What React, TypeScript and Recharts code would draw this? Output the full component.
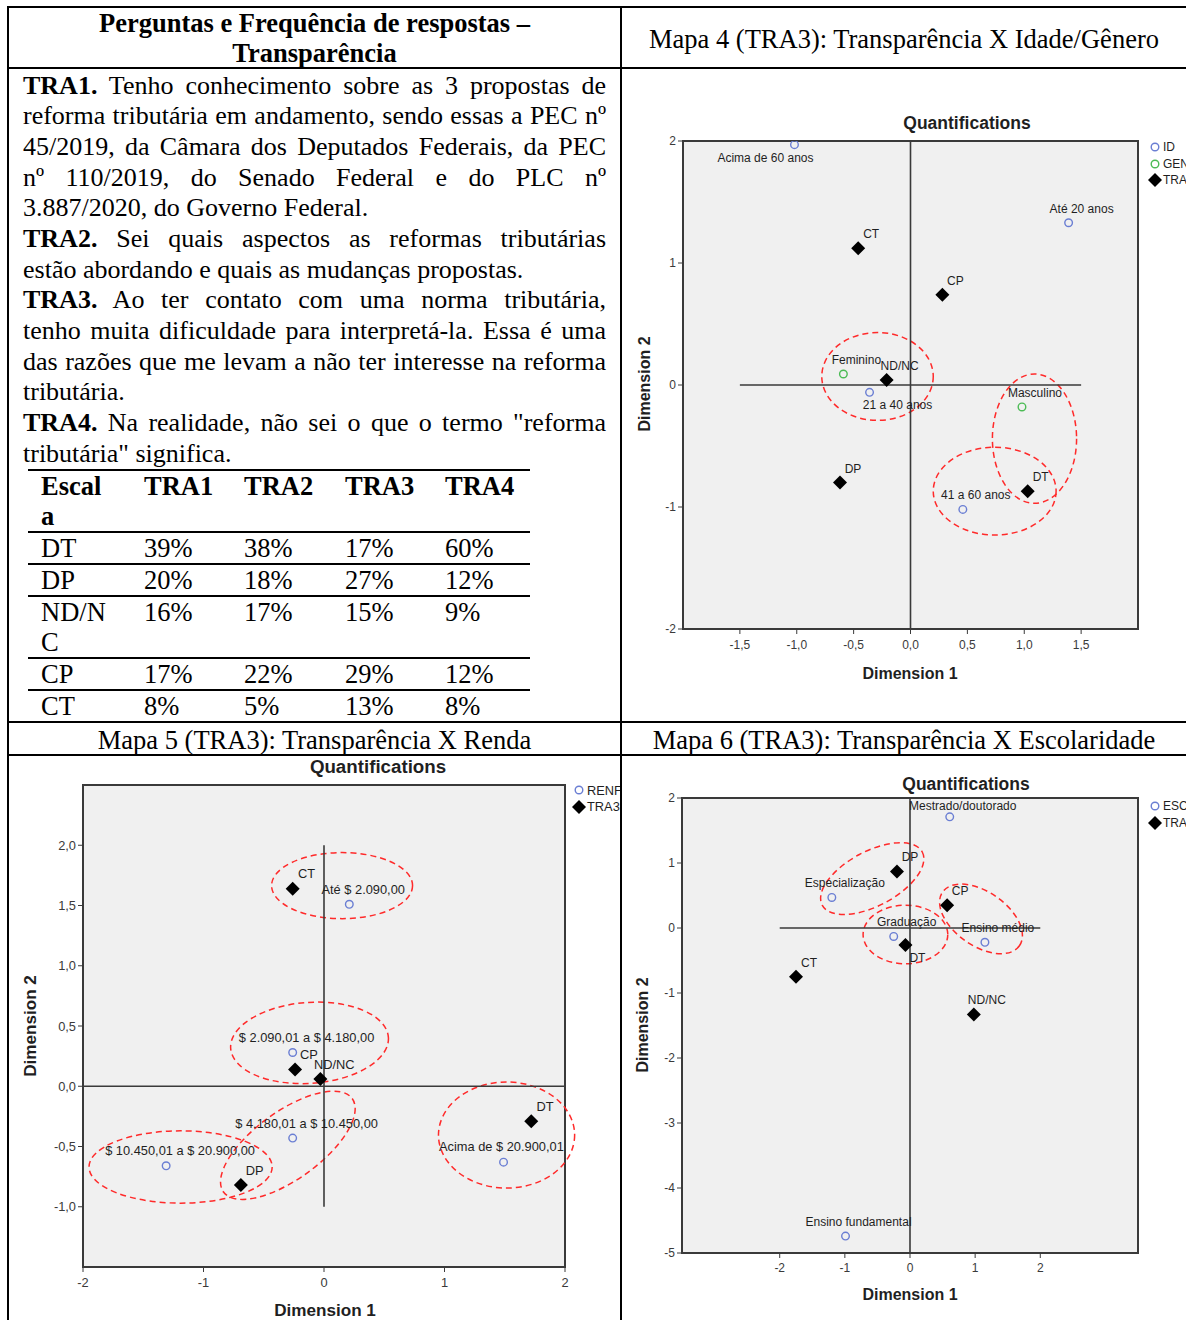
import type { CSSProperties, ReactNode } from "react";
import {
  CartesianGrid,
  ReferenceArea,
  ReferenceLine,
  Scatter,
  ScatterChart,
  XAxis,
  YAxis,
} from "recharts";

const SERIF = '"Liberation Serif", "Times New Roman", serif';
const SANS = '"Liberation Sans", Arial, sans-serif';
const INK = "#3a3a3a";
const LABEL_INK = "#1f1f1f";
const BLUE = "#6a7ed3";
const GREEN = "#4cbb55";
const RED = "#ff2a2a";
const PLOT_BG = "#f0f0f0";

// ---------- left column: questions ----------
// [bold prefix, text, justified line]
const QUESTION_LINES: Array<[string, string, boolean]> = [
  ["TRA1.", "  Tenho conhecimento sobre as 3 propostas de", true],
  ["", "reforma tributária em andamento, sendo essas a PEC nº", true],
  ["", "45/2019, da Câmara dos Deputados Federais, da PEC", true],
  ["", "nº 110/2019, do Senado Federal e do PLC nº", true],
  ["", "3.887/2020, do Governo Federal.", false],
  ["TRA2.", "  Sei quais aspectos as reformas tributárias", true],
  ["", "estão abordando e quais as mudanças propostas.", false],
  ["TRA3.", "  Ao ter contato com uma norma tributária,", true],
  ["", "tenho muita dificuldade para interpretá-la. Essa é uma", true],
  ["", "das razões que me levam a não ter interesse na reforma", true],
  ["", "tributária.", false],
  ["TRA4.", "  Na realidade, não sei o que o termo \"reforma", true],
  ["", "tributária\" significa.", false],
];

// ---------- frequency table ----------
const SCALE_HEADER = "Escala";
const SCALE_ROWS = ["DT", "DP", "ND/NC", "CP", "CT"];
const TRA_COLUMNS = ["TRA1", "TRA2", "TRA3", "TRA4"];
const TRA1_PCT = [39, 20, 16, 17, 8];
const TRA2_PCT = [38, 18, 17, 22, 5];
const TRA3_PCT = [17, 27, 15, 29, 13];
const TRA4_PCT = [60, 12, 9, 12, 8];

// ---------- Mapa 4: Idade / Gênero ----------
const MAP4_ID_NAMES = ["Acima de 60 anos", "Até 20 anos", "21 a 40 anos", "41 a 60 anos"];
const MAP4_ID_X = [-1.02, 1.39, -0.36, 0.46];
const MAP4_ID_Y = [1.97, 1.33, -0.06, -1.02];
const MAP4_GEN_NAMES = ["Feminino", "Masculino"];
const MAP4_GEN_X = [-0.59, 0.98];
const MAP4_GEN_Y = [0.09, -0.18];
const MAP4_TRA_NAMES = ["CT", "CP", "ND/NC", "DP", "DT"];
const MAP4_TRA_X = [-0.46, 0.28, -0.21, -0.62, 1.03];
const MAP4_TRA_Y = [1.12, 0.74, 0.04, -0.8, -0.87];
const MAP4_X_TICKS = [-1.5, -1, -0.5, 0, 0.5, 1, 1.5];
const MAP4_Y_TICKS = [-2, -1, 0, 1, 2];
// groups circled in red: centre x, centre y, radius x, radius y, tilt
const MAP4_GROUP_CX = [-0.29, 1.09, 0.74];
const MAP4_GROUP_CY = [0.07, -0.44, -0.87];
const MAP4_GROUP_RX = [0.49, 0.37, 0.54];
const MAP4_GROUP_RY = [0.36, 0.53, 0.36];
const MAP4_GROUP_TILT = [0, 0, 0];

// ---------- Mapa 5: Renda ----------
const MAP5_REN_NAMES = [
  "Até $ 2.090,00",
  "$ 2.090,01 a $ 4.180,00",
  "$ 4.180,01 a $ 10.450,00",
  "$ 10.450,01 a $ 20.900,00",
  "Acima de $ 20.900,01",
];
const MAP5_REN_X = [0.21, -0.26, -0.26, -1.31, 1.49];
const MAP5_REN_Y = [1.51, 0.28, -0.43, -0.66, -0.63];
const MAP5_TRA_NAMES = ["CT", "CP", "ND/NC", "DP", "DT"];
const MAP5_TRA_X = [-0.26, -0.24, -0.03, -0.69, 1.72];
const MAP5_TRA_Y = [1.64, 0.14, 0.06, -0.82, -0.29];
const MAP5_X_TICKS = [-2, -1, 0, 1, 2];
const MAP5_Y_TICKS = [-1, -0.5, 0, 0.5, 1, 1.5, 2];
const MAP5_GROUP_CX = [0.15, -0.12, -0.3, -1.19, 1.515];
const MAP5_GROUP_CY = [1.665, 0.36, -0.49, -0.67, -0.405];
const MAP5_GROUP_RX = [0.585, 0.656, 0.66, 0.76, 0.565];
const MAP5_GROUP_RY = [0.274, 0.336, 0.28, 0.3, 0.44];
const MAP5_GROUP_TILT = [0, -4, -36, 0, 0];

// ---------- Mapa 6: Escolaridade ----------
const MAP6_ESC_NAMES = [
  "Mestrado/doutorado",
  "Especialização",
  "Graduação",
  "Ensino médio",
  "Ensino fundamental",
];
const MAP6_ESC_X = [0.61, -1.2, -0.25, 1.15, -0.99];
const MAP6_ESC_Y = [1.71, 0.47, -0.13, -0.22, -4.74];
const MAP6_TRA_NAMES = ["DP", "CP", "DT", "CT", "ND/NC"];
const MAP6_TRA_X = [-0.2, 0.57, -0.07, -1.75, 0.98];
const MAP6_TRA_Y = [0.87, 0.35, -0.26, -0.75, -1.33];
const MAP6_X_TICKS = [-2, -1, 0, 1, 2];
const MAP6_Y_TICKS = [-5, -4, -3, -2, -1, 0, 1, 2];
const MAP6_GROUP_CX = [-0.58, -0.07, 1.09];
const MAP6_GROUP_CY = [0.76, -0.1, 0.14];
const MAP6_GROUP_RX = [0.87, 0.65, 0.72];
const MAP6_GROUP_RY = [0.42, 0.45, 0.415];
const MAP6_GROUP_TILT = [-28, 0, 35];

type Point = { name: string; x: number; y: number };
type Series = { key: string; kind: "circle" | "diamond"; color: string; data: Point[] };
type Group = { cx: number; cy: number; rx: number; ry: number; tilt: number };
type Segment = [[number, number], [number, number]];

interface MapConfig {
  cell: [number, number, number, number];
  box: [number, number, number, number];
  margin: { top: number; right: number; bottom: number; left: number };
  yAxisWidth: number;
  xAxisHeight: number;
  xTickGap: number;
  font: number;
  xDomain: [number, number];
  yDomain: [number, number];
  xTicks: number[];
  yTicks: number[];
  xDigits: number;
  yDigits: number;
  series: Series[];
  groups: Group[];
  segments: Segment[];
  labelShift: Record<string, [number, number]>;
  title: [number, number];
  dim1: [number, number];
  dim2: [number, number];
  legend: [number, number];
}

function zipPoints(names: string[], xs: number[], ys: number[]): Point[] {
  return names.map((name, i) => ({ name, x: xs[i], y: ys[i] }));
}

function zipGroups(cx: number[], cy: number[], rx: number[], ry: number[], tilt: number[]): Group[] {
  return cx.map((v, i) => ({ cx: v, cy: cy[i], rx: rx[i], ry: ry[i], tilt: tilt[i] }));
}

const MAP4: MapConfig = {
  cell: [622, 70, 564, 651],
  box: [622, 100, 560, 600],
  margin: { top: 41, right: 44, bottom: 41, left: 30 },
  yAxisWidth: 31,
  xAxisHeight: 30,
  xTickGap: 6,
  font: 1,
  xDomain: [-2, 2],
  yDomain: [-2, 2],
  xTicks: MAP4_X_TICKS,
  yTicks: MAP4_Y_TICKS,
  xDigits: 1,
  yDigits: 0,
  series: [
    { key: "ID", kind: "circle", color: BLUE, data: zipPoints(MAP4_ID_NAMES, MAP4_ID_X, MAP4_ID_Y) },
    { key: "GEN", kind: "circle", color: GREEN, data: zipPoints(MAP4_GEN_NAMES, MAP4_GEN_X, MAP4_GEN_Y) },
    { key: "TRA3", kind: "diamond", color: "#000", data: zipPoints(MAP4_TRA_NAMES, MAP4_TRA_X, MAP4_TRA_Y) },
  ],
  groups: zipGroups(MAP4_GROUP_CX, MAP4_GROUP_CY, MAP4_GROUP_RX, MAP4_GROUP_RY, MAP4_GROUP_TILT),
  segments: [
    [[-1.5, 0], [1.5, 0]],
    [[0, -2], [0, 2]],
  ],
  labelShift: { "Acima de 60 anos": [-29, 13], "21 a 40 anos": [28, 13] },
  title: [967, 123],
  dim1: [910, 674],
  dim2: [645, 384],
  legend: [1155, 147],
};

const MAP5: MapConfig = {
  cell: [9, 756, 611, 564],
  box: [20, 770, 560, 520],
  margin: { top: 15, right: 15, bottom: 0, left: 23 },
  yAxisWidth: 40,
  xAxisHeight: 23,
  xTickGap: 6,
  font: 1.07,
  xDomain: [-2, 2],
  yDomain: [-1.5, 2.5],
  xTicks: MAP5_X_TICKS,
  yTicks: MAP5_Y_TICKS,
  xDigits: 0,
  yDigits: 1,
  series: [
    { key: "RENF", kind: "circle", color: BLUE, data: zipPoints(MAP5_REN_NAMES, MAP5_REN_X, MAP5_REN_Y) },
    { key: "TRA3", kind: "diamond", color: "#000", data: zipPoints(MAP5_TRA_NAMES, MAP5_TRA_X, MAP5_TRA_Y) },
  ],
  groups: zipGroups(MAP5_GROUP_CX, MAP5_GROUP_CY, MAP5_GROUP_RX, MAP5_GROUP_RY, MAP5_GROUP_TILT),
  segments: [
    [[-2, 0], [2, 0]],
    [[0, -1], [0, 2]],
  ],
  labelShift: { "Acima de $ 20.900,01": [-2, -15] },
  title: [378, 767],
  dim1: [325, 1311],
  dim2: [31, 1026],
  legend: [579, 790],
};

const MAP6: MapConfig = {
  cell: [622, 756, 564, 564],
  box: [622, 780, 560, 500],
  margin: { top: 18, right: 44, bottom: 2, left: 30 },
  yAxisWidth: 30,
  xAxisHeight: 25,
  xTickGap: 5,
  font: 1,
  xDomain: [-3.5, 3.5],
  yDomain: [-5, 2],
  xTicks: MAP6_X_TICKS,
  yTicks: MAP6_Y_TICKS,
  xDigits: 0,
  yDigits: 0,
  series: [
    { key: "ESC", kind: "circle", color: BLUE, data: zipPoints(MAP6_ESC_NAMES, MAP6_ESC_X, MAP6_ESC_Y) },
    { key: "TRA3", kind: "diamond", color: "#000", data: zipPoints(MAP6_TRA_NAMES, MAP6_TRA_X, MAP6_TRA_Y) },
  ],
  groups: zipGroups(MAP6_GROUP_CX, MAP6_GROUP_CY, MAP6_GROUP_RX, MAP6_GROUP_RY, MAP6_GROUP_TILT),
  segments: [
    [[-2, 0], [2, 0]],
    [[0, -5], [0, 2]],
  ],
  labelShift: { DT: [12, 13], "Mestrado/doutorado": [13, -11] },
  title: [966, 784],
  dim1: [910, 1295],
  dim2: [643, 1025],
  legend: [1155, 806],
};

function Marker({ kind, color, cx, cy }: { kind: string; color: string; cx: number; cy: number }) {
  if (kind === "diamond") {
    const r = 7;
    return (
      <polygon
        points={`${cx},${cy - r} ${cx + r},${cy} ${cx},${cy + r} ${cx - r},${cy}`}
        fill="#000"
      />
    );
  }
  return <circle cx={cx} cy={cy} r={3.8} fill="none" stroke={color} strokeWidth={1.4} />;
}

function fmt(digits: number) {
  return (v: number) => v.toFixed(digits).replace(".", ",");
}

function Centered({
  x,
  y,
  rotate,
  style,
  children,
}: {
  x: number;
  y: number;
  rotate?: number;
  style?: CSSProperties;
  children: ReactNode;
}) {
  return (
    <div
      style={{
        position: "absolute",
        left: x,
        top: y,
        transform: `translate(-50%, -50%)${rotate ? ` rotate(${rotate}deg)` : ""}`,
        whiteSpace: "nowrap",
        ...style,
      }}
    >
      {children}
    </div>
  );
}

function QuantMap({ cfg }: { cfg: MapConfig }) {
  const [cl, ct, cw, chh] = cfg.cell;
  const [bl, bt, bw, bh] = cfg.box;
  const small = 12 * cfg.font;
  const tickStyle = { fill: INK, fontSize: small, fontFamily: SANS };
  const heading: CSSProperties = { fontFamily: SANS, fontWeight: 700, color: LABEL_INK };
  return (
    <div
      style={{
        position: "absolute",
        left: cl,
        top: ct,
        width: cw,
        height: chh,
        overflow: "hidden",
      }}
    >
      <div style={{ position: "absolute", left: bl - cl, top: bt - ct }}>
        <ScatterChart width={bw} height={bh} margin={cfg.margin}>
          <CartesianGrid horizontal={false} vertical={false} fill={PLOT_BG} />
          <XAxis
            type="number"
            dataKey="x"
            domain={cfg.xDomain}
            ticks={cfg.xTicks}
            interval={0}
            allowDataOverflow
            height={cfg.xAxisHeight}
            axisLine={false}
            tickLine={{ stroke: INK }}
            tickSize={5}
            tickMargin={cfg.xTickGap}
            tick={tickStyle}
            tickFormatter={fmt(cfg.xDigits)}
          />
          <YAxis
            type="number"
            dataKey="y"
            domain={cfg.yDomain}
            ticks={cfg.yTicks}
            interval={0}
            allowDataOverflow
            width={cfg.yAxisWidth}
            axisLine={false}
            tickLine={{ stroke: INK }}
            tickSize={5}
            tickMargin={2}
            tick={tickStyle}
            tickFormatter={fmt(cfg.yDigits)}
          />
          {cfg.series.map((s) => (
            <Scatter
              key={s.key}
              name={s.key}
              data={s.data}
              isAnimationActive={false}
              shape={(p: any) => {
                const name: string = p.payload?.name ?? "";
                const [dx, dy] = cfg.labelShift[name] ?? [13, -14];
                return (
                  <g>
                    <Marker kind={s.kind} color={s.color} cx={p.cx} cy={p.cy} />
                    <text
                      x={p.cx + dx * cfg.font}
                      y={p.cy + dy * cfg.font}
                      textAnchor="middle"
                      dominantBaseline="central"
                      fontSize={small}
                      fontFamily={SANS}
                      fill={LABEL_INK}
                    >
                      {name}
                    </text>
                  </g>
                );
              }}
            />
          ))}
          <ReferenceArea
            x1={cfg.xDomain[0]}
            x2={cfg.xDomain[1]}
            y1={cfg.yDomain[0]}
            y2={cfg.yDomain[1]}
            fill="none"
            stroke={INK}
            strokeWidth={2}
            ifOverflow="visible"
          />
          {cfg.segments.map((s, i) => (
            <ReferenceLine
              key={`seg${i}`}
              segment={[
                { x: s[0][0], y: s[0][1] },
                { x: s[1][0], y: s[1][1] },
              ]}
              stroke={INK}
              strokeWidth={1.6}
              ifOverflow="visible"
            />
          ))}
          {cfg.groups.map((g, i) => (
            <ReferenceArea
              key={`grp${i}`}
              x1={g.cx - g.rx}
              x2={g.cx + g.rx}
              y1={g.cy - g.ry}
              y2={g.cy + g.ry}
              ifOverflow="visible"
              shape={(p: any) => {
                const cx = p.x + p.width / 2;
                const cy = p.y + p.height / 2;
                return (
                  <ellipse
                    cx={cx}
                    cy={cy}
                    rx={Math.abs(p.width) / 2}
                    ry={Math.abs(p.height) / 2}
                    transform={`rotate(${g.tilt} ${cx} ${cy})`}
                    fill="none"
                    stroke={RED}
                    strokeWidth={1.5}
                    strokeDasharray="6 4"
                  />
                );
              }}
            />
          ))}
        </ScatterChart>
      </div>
      <Centered x={cfg.title[0] - cl} y={cfg.title[1] - ct} style={{ ...heading, fontSize: 17.5 * cfg.font }}>
        Quantifications
      </Centered>
      <Centered x={cfg.dim1[0] - cl} y={cfg.dim1[1] - ct} style={{ ...heading, fontSize: 16 * cfg.font }}>
        Dimension 1
      </Centered>
      <Centered
        x={cfg.dim2[0] - cl}
        y={cfg.dim2[1] - ct}
        rotate={-90}
        style={{ ...heading, fontSize: 16 * cfg.font }}
      >
        Dimension 2
      </Centered>
      {cfg.series.map((s, i) => (
        <div
          key={s.key}
          style={{
            position: "absolute",
            left: cfg.legend[0] - cl - 8,
            top: cfg.legend[1] - ct + i * 16.5 - 8,
            height: 16,
            display: "flex",
            alignItems: "center",
            fontFamily: SANS,
            fontSize: small,
            color: LABEL_INK,
            whiteSpace: "nowrap",
          }}
        >
          <svg width={16} height={16} style={{ display: "block" }}>
            <Marker kind={s.kind} color={s.color} cx={8} cy={8} />
          </svg>
          <span>{s.key}</span>
        </div>
      ))}
    </div>
  );
}

function Rule({ left, top, width, height }: { left: number; top: number; width: number; height: number }) {
  return <div style={{ position: "absolute", left, top, width, height, background: "#000" }} />;
}

function FrequencyTable() {
  const cols = [TRA1_PCT, TRA2_PCT, TRA3_PCT, TRA4_PCT];
  const cell: CSSProperties = {
    padding: 0,
    lineHeight: "30px",
    verticalAlign: "top",
    textAlign: "left",
    borderBottom: "2px solid #000",
  };
  const first: CSSProperties = { ...cell, paddingLeft: 13 };
  const wrap: CSSProperties = { width: 68, wordBreak: "break-all" };
  return (
    <table
      style={{
        position: "absolute",
        left: 28,
        top: 469,
        width: 502,
        borderCollapse: "collapse",
        tableLayout: "fixed",
        fontFamily: SERIF,
        fontSize: 26.5,
        color: "#000",
        borderTop: "2.5px solid #000",
      }}
    >
      <colgroup>
        <col style={{ width: 116 }} />
        <col style={{ width: 100 }} />
        <col style={{ width: 101 }} />
        <col style={{ width: 100 }} />
        <col style={{ width: 85 }} />
      </colgroup>
      <tbody>
        <tr style={{ fontWeight: 700 }}>
          <td style={first}>
            <div style={wrap}>{SCALE_HEADER}</div>
          </td>
          {TRA_COLUMNS.map((c) => (
            <td key={c} style={cell}>
              {c}
            </td>
          ))}
        </tr>
        {SCALE_ROWS.map((r, i) => (
          <tr key={r}>
            <td style={first}>
              <div style={wrap}>{r}</div>
            </td>
            {cols.map((col, j) => (
              <td key={j} style={cell}>
                {col[i]}%
              </td>
            ))}
          </tr>
        ))}
      </tbody>
    </table>
  );
}

export default function App() {
  const serif: CSSProperties = { fontFamily: SERIF, fontSize: 26.5, color: "#000" };
  const LH = 30.67;
  return (
    <div
      style={{
        position: "absolute",
        left: 0,
        top: 0,
        width: 1186,
        height: 1320,
        overflow: "hidden",
        background: "#fff",
      }}
    >
      {/* table rules */}
      <Rule left={7} top={6} width={1179} height={2} />
      <Rule left={7} top={67} width={1179} height={2} />
      <Rule left={7} top={721} width={1179} height={2} />
      <Rule left={7} top={754} width={1179} height={2} />
      <Rule left={7} top={6} width={2} height={1314} />
      <Rule left={620} top={6} width={2} height={1314} />

      {/* header cells */}
      <div
        style={{
          ...serif,
          position: "absolute",
          left: 9,
          top: 23 - LH / 2,
          width: 611,
          lineHeight: `${LH}px`,
          textAlign: "center",
          fontWeight: 700,
        }}
      >
        <div>Perguntas e Frequência de respostas –</div>
        <div>Transparência</div>
      </div>
      <div
        style={{
          ...serif,
          position: "absolute",
          left: 622,
          top: 39 - LH / 2,
          width: 564,
          lineHeight: `${LH}px`,
          textAlign: "center",
        }}
      >
        Mapa 4 (TRA3): Transparência X Idade/Gênero
      </div>
      <div
        style={{
          ...serif,
          position: "absolute",
          left: 9,
          top: 740 - LH / 2,
          width: 611,
          lineHeight: `${LH}px`,
          textAlign: "center",
        }}
      >
        Mapa 5 (TRA3): Transparência X Renda
      </div>
      <div
        style={{
          ...serif,
          position: "absolute",
          left: 622,
          top: 740 - LH / 2,
          width: 564,
          lineHeight: `${LH}px`,
          textAlign: "center",
        }}
      >
        Mapa 6 (TRA3): Transparência X Escolaridade
      </div>

      {/* questions */}
      <div
        style={{
          ...serif,
          fontSize: 26,
          position: "absolute",
          left: 23,
          top: 86 - LH / 2,
          width: 583,
          lineHeight: `${LH}px`,
        }}
      >
        {QUESTION_LINES.map(([bold, text, justify], i) => (
          <div
            key={i}
            style={{
              whiteSpace: justify ? "normal" : "nowrap",
              textAlign: justify ? "justify" : "left",
              textAlignLast: justify ? "justify" : "left",
              height: LH,
              overflow: "visible",
            }}
          >
            {bold && <b>{bold}</b>}
            {text}
          </div>
        ))}
      </div>

      <FrequencyTable />

      <QuantMap cfg={MAP4} />
      <QuantMap cfg={MAP5} />
      <QuantMap cfg={MAP6} />
    </div>
  );
}
